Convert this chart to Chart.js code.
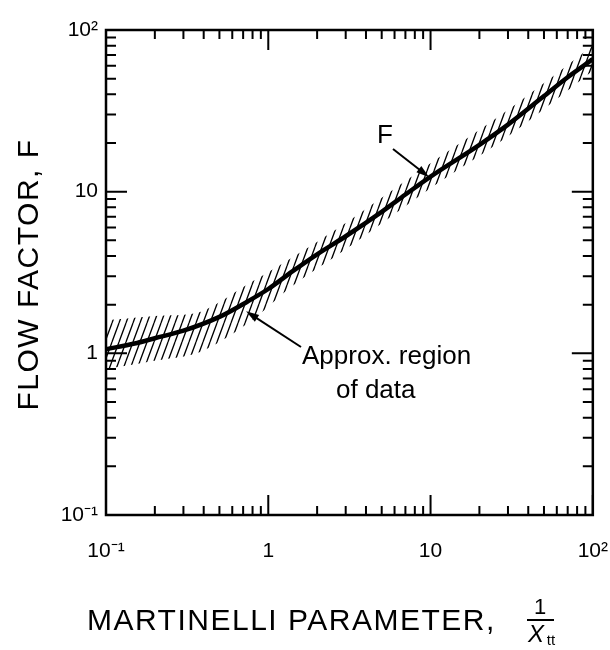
<!DOCTYPE html>
<html>
<head>
<meta charset="utf-8">
<script src="https://cdn.jsdelivr.net/npm/chart.js@4.4.1/dist/chart.umd.min.js"></script>
<style>
  html, body { margin: 0; padding: 0; background: #fff; }
  canvas { display: block; }
</style>
</head>
<body>
<canvas id="chart" width="610" height="650"></canvas>
<script>
// Martinelli parameter 1/Xtt and flow factor F
const paramX = [0.1, 0.15, 0.2, 0.3, 0.5, 0.75, 1, 1.4, 2, 3, 5, 7, 10, 20, 30, 50, 70, 100];
const flowF  = [1.06, 1.15, 1.24, 1.38, 1.68, 2.1, 2.5, 3.2, 4.1, 5.3, 7.5, 9.6, 12.4, 19.5, 26, 39, 51, 66];

// hatched "approx. region of data" band
const bandX     = [0.1, 0.2, 0.38, 0.76, 1.4, 3, 10, 30, 100];
const bandUpper = [1.6, 1.7, 1.8, 2.7, 3.9, 6.4, 15, 32, 80];
const bandLower = [0.8, 0.9, 1.02, 1.55, 2.6, 4.4, 10.5, 22, 56];

const xTickValues = [0.1, 1, 10, 100];
const xTickLabels = ['10⁻¹', '1', '10', '10²'];
const yTickValues = [0.1, 1, 10, 100];
const yTickLabels = ['10⁻¹', '1', '10', '10²'];

const FONT = "'Liberation Sans', Arial, sans-serif";

function pts(xs, ys) {
    return xs.map((v, i) => ({ x: v, y: ys[i] }));
}

function hatchPattern() {
    const w = 7, h = 19;
    const c = document.createElement('canvas');
    c.width = w; c.height = h;
    const g = c.getContext('2d');
    g.strokeStyle = '#000';
    g.lineWidth = 1.3;
    g.beginPath();
    g.moveTo(0, h); g.lineTo(w, 0);
    g.moveTo(-w, h); g.lineTo(0, 0);
    g.moveTo(w, h); g.lineTo(2 * w, 0);
    g.stroke();
    return g.createPattern(c, 'repeat');
}

// minor tick values 2..9 in each decade
function minorTicks(decades) {
    const out = [];
    for (let i = 0; i < decades.length - 1; i++) {
        for (let k = 2; k <= 9; k++) out.push(decades[i] * k);
    }
    return out;
}

function arrow(ctx, x0, y0, x1, y1) {
    const a = Math.atan2(y1 - y0, x1 - x0);
    ctx.beginPath();
    ctx.moveTo(x0, y0);
    ctx.lineTo(x1 - 8 * Math.cos(a), y1 - 8 * Math.sin(a));
    ctx.stroke();
    ctx.beginPath();
    ctx.moveTo(x1, y1);
    ctx.lineTo(x1 - 13 * Math.cos(a) + 4 * Math.sin(a), y1 - 13 * Math.sin(a) - 4 * Math.cos(a));
    ctx.lineTo(x1 - 13 * Math.cos(a) - 4 * Math.sin(a), y1 - 13 * Math.sin(a) + 4 * Math.cos(a));
    ctx.closePath();
    ctx.fill();
}

// frame with inward ticks on all four sides, titles and notes
const framePlugin = {
    id: 'framePlugin',
    afterDraw(chart) {
        const { ctx, chartArea: a, scales: { x, y } } = chart;
        ctx.save();
        ctx.strokeStyle = '#000';
        ctx.fillStyle = '#000';
        ctx.lineCap = 'butt';

        ctx.lineWidth = 2;
        ctx.beginPath();
        const tickX = (v, len) => {
            const px = x.getPixelForValue(v);
            ctx.moveTo(px, a.bottom); ctx.lineTo(px, a.bottom - len);
            ctx.moveTo(px, a.top); ctx.lineTo(px, a.top + len);
        };
        const tickY = (v, len) => {
            const py = y.getPixelForValue(v);
            ctx.moveTo(a.left, py); ctx.lineTo(a.left + len, py);
            ctx.moveTo(a.right, py); ctx.lineTo(a.right - len, py);
        };
        minorTicks(xTickValues).forEach(v => tickX(v, 9));
        minorTicks(yTickValues).forEach(v => tickY(v, 10));
        xTickValues.forEach(v => tickX(v, 20));
        yTickValues.forEach(v => tickY(v, 21));
        ctx.stroke();

        ctx.lineWidth = 2.5;
        ctx.strokeRect(a.left, a.top, a.width, a.height);

        // axis titles
        ctx.letterSpacing = '1.5px';
        ctx.font = '30px ' + FONT;
        ctx.textBaseline = 'alphabetic';
        ctx.textAlign = 'left';
        ctx.fillText('MARTINELLI PARAMETER,', 87, 630);

        ctx.save();
        ctx.translate(38, (a.top + a.bottom) / 2 + 2);
        ctx.rotate(-Math.PI / 2);
        ctx.textAlign = 'center';
        ctx.fillText('FLOW FACTOR, F', 0, 0);
        ctx.restore();
        ctx.letterSpacing = '0px';

        // 1 / Xtt
        ctx.textAlign = 'center';
        ctx.font = '22px ' + FONT;
        ctx.fillText('1', 540, 614);
        ctx.lineWidth = 2;
        ctx.beginPath();
        ctx.moveTo(527, 620); ctx.lineTo(554, 620);
        ctx.stroke();
        ctx.font = 'italic 24px ' + FONT;
        ctx.fillText('X', 536, 642);
        ctx.font = '15px ' + FONT;
        ctx.fillText('tt', 551, 645);

        // notes
        ctx.textAlign = 'left';
        ctx.font = '26px ' + FONT;
        ctx.fillText('F', 377, 143);
        ctx.lineWidth = 2;
        arrow(ctx, 393, 149, x.getPixelForValue(9.8), y.getPixelForValue(12.3));

        ctx.fillText('Approx. region', 302, 364);
        ctx.fillText('of data', 336, 398);
        arrow(ctx, 301, 347, x.getPixelForValue(0.73), y.getPixelForValue(1.82));
        ctx.restore();
    }
};

const tickOpts = (values, labels) => ({
    autoSkip: false,
    maxRotation: 0,
    color: '#000',
    font: { family: FONT, size: 21 },
    callback: (v) => {
        const i = values.findIndex(t => Math.abs(t - v) / t < 1e-6);
        return i >= 0 ? labels[i] : '';
    }
});

new Chart(document.getElementById('chart'), {
    type: 'line',
    data: {
        datasets: [
            {
                data: pts(bandX, bandUpper),
                borderWidth: 0,
                pointRadius: 0,
                tension: 0.3,
                fill: '+1',
                backgroundColor: hatchPattern()
            },
            {
                data: pts(bandX, bandLower),
                borderWidth: 0,
                pointRadius: 0,
                tension: 0.3,
                fill: false
            },
            {
                data: pts(paramX, flowF),
                borderColor: '#000',
                borderWidth: 4.5,
                pointRadius: 0,
                cubicInterpolationMode: 'monotone',
                fill: false
            }
        ]
    },
    options: {
        responsive: false,
        animation: false,
        layout: { padding: { top: 30, right: 15, left: 0, bottom: 0 } },
        plugins: { legend: { display: false }, tooltip: { enabled: false } },
        scales: {
            x: {
                type: 'logarithmic',
                min: 0.1,
                max: 100,
                afterBuildTicks: (s) => { s.ticks = xTickValues.map(v => ({ value: v })); },
                afterFit: (s) => { s.height = 135; },
                // invisible tick marks only push the labels down
                grid: { display: true, drawOnChartArea: false, drawTicks: true, tickLength: 22, tickColor: 'rgba(0,0,0,0)' },
                border: { display: false },
                ticks: Object.assign(tickOpts(xTickValues, xTickLabels), { padding: 2 })
            },
            y: {
                type: 'logarithmic',
                min: 0.1,
                max: 100,
                afterBuildTicks: (s) => { s.ticks = yTickValues.map(v => ({ value: v })); },
                afterFit: (s) => { s.width = 106; },
                grid: { display: false, drawTicks: false },
                border: { display: false },
                ticks: Object.assign(tickOpts(yTickValues, yTickLabels), { padding: 8 })
            }
        }
    },
    plugins: [framePlugin]
});
</script>
</body>
</html>
